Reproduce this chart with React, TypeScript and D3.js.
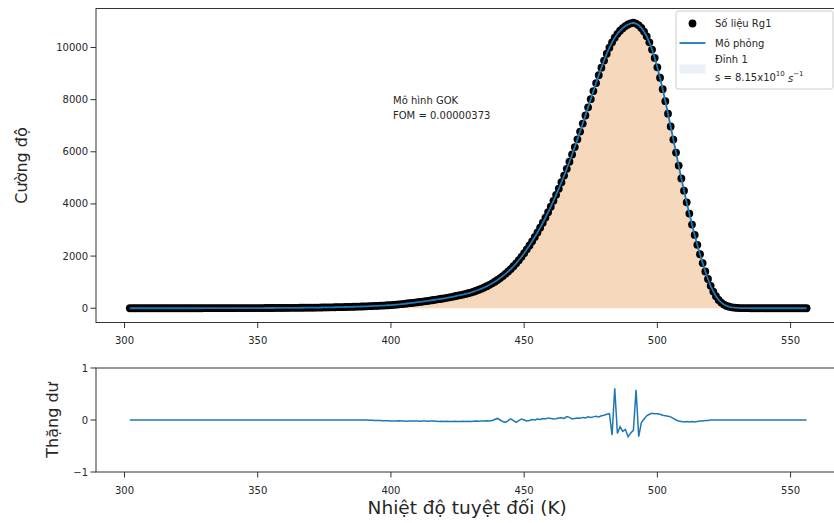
import React from 'react';
import * as d3 from 'd3';

// Temperature grid: 302 K ... 556 K, 1 K step (one reading per kelvin)
const tStart = 302;
const tEnd = 556;

// Measured TL intensity (Số liệu Rg1), one value per kelvin from 302 K
const intensity: number[] = [
  0,0,0,0,0,0,0,0,0,0, 0,0,0,0,0,0,0,0,0,0, 0,0,0,0,0,0,0,0,          // 302-329
  1,1,1,1,2,2,2,2,3,3,                                                  // 330
  3,3,4,4,4,5,5,5,6,6,                                                  // 340
  6,7,7,8,8,9,9,10,10,11,                                               // 350
  12,13,14,15,16,17,18,19,20,21,                                        // 360
  22,23,25,26,28,30,32,34,36,38,                                        // 370
  40,42,45,47,50,53,56,60,63,66,                                        // 380
  70,74,78,83,88,93,98,103,108,114,                                     // 390
  120,129,138,148,159,170,181,192,204,217,                              // 400
  230,243,256,270,285,300,316,331,347,363,                              // 410
  380,399,418,438,459,480,502,525,549,574,                              // 420
  600,634,670,709,751,796,845,898,955,1017,                             // 430
  1084,1156,1234,1318,1408,1505,1609,1721,1841,1970,                    // 440
  2108,2258,2408,2566,2732,2906,3088,3278,3476,3682,                    // 450
  3896,4118,4348,4586,4832,5086,5348,5618,5896,6182,                    // 460
  6476,6776,7082,7392,7704,8016,8328,8636,8936,9226,                    // 470
  9500,9760,9994,10200,10378,10524,10644,10742,10822,10884,             // 480
  10926,10948,10918,10852,10750,10610,10430,10200,9920,9600,            // 490
  9240,8840,8400,7940,7460,6970,6470,5970,5470,4980,                    // 500
  4510,4060,3630,3210,2810,2430,2070,1730,1410,1120,                    // 510
  860,640,460,320,215,140,90,56,34,20,                                  // 520
  12,7,4,2,1,0,0,0,0,0,                                                 // 530
  0,0,0,0,0,0,0,0,0,0,                                                  // 540
  0,0,0,0,0,0,0                                                         // 550-556
];

// GOK simulation (Mô phỏng) – visually identical to the data
const fitted: number[] = intensity;

// Residuals (Thặng dư), one value per kelvin from 302 K
const residual: number[] = [
  0,0,0,0,0,0,0,0,0,0, 0,0,0,0,0,0,0,0,0,0, 0,0,0,0,0,0,0,0,0,0,       // 302-331
  0,0,0,0,0,0,0,0,0,0, 0,0,0,0,0,0,0,0,0,0, 0,0,0,0,0,0,0,0,0,0,       // 332-361
  0,0,0,0,0,0,0,0,0,0, 0,0,0,0,0,0,0,0,0,0, 0,0,0,0,0,0,0,0,           // 362-389
  0,0,-0.005,-0.005,-0.01,-0.01,-0.01,-0.015,-0.015,-0.015,             // 390
  -0.02,-0.02,-0.02,-0.015,-0.02,-0.02,-0.025,-0.02,-0.02,-0.02,        // 400
  -0.02,-0.025,-0.02,-0.02,-0.025,-0.02,-0.02,-0.025,-0.03,-0.025,      // 410
  -0.03,-0.025,-0.03,-0.03,-0.025,-0.03,-0.03,-0.025,-0.03,-0.025,      // 420
  -0.03,-0.025,-0.02,-0.025,-0.02,-0.02,-0.015,-0.02,-0.01,0.01,        // 430
  0.03,0.0,-0.03,-0.045,-0.01,0.02,-0.01,-0.045,-0.01,0.02,             // 440
  0.0,-0.02,-0.01,0.01,0.0,0.02,0.01,0.03,0.02,0.04,                    // 450
  0.03,0.02,0.025,0.04,0.045,0.03,0.065,0.05,0.02,0.03,                 // 460
  0.04,0.035,0.05,0.04,0.06,0.05,0.06,0.07,0.06,0.08,                   // 470
  0.09,0.11,0.12,-0.29,0.61,-0.26,-0.13,-0.22,-0.18,-0.32,              // 480
  -0.25,-0.2,0.58,-0.32,-0.05,0.02,0.08,0.11,0.13,0.12,                 // 490
  0.12,0.11,0.09,0.08,0.07,0.06,0.03,0.0,-0.02,-0.03,                   // 500
  -0.04,-0.03,-0.04,-0.03,-0.04,-0.03,-0.02,-0.02,-0.01,-0.01,          // 510
  0,0,0,0,0,0,0,0,0,0,                                                  // 520
  0,0,0,0,0,0,0,0,0,0, 0,0,0,0,0,0,0,0,0,0, 0,0,0,0,0,0,0              // 530-556
];

const xTicks = [300, 350, 400, 450, 500, 550];
const yTicksTop = [0, 2000, 4000, 6000, 8000, 10000];
const yTicksBottom = [-1, 0, 1];

const temps = intensity.map((_, i) => tStart + i);

const W = 834;
const H = 523;
const FONT = 'DejaVu Sans, sans-serif';
const TXT = '#262626';
const SPINE = '#333333';
const BLUE = '#1f77b4';
const FILL = '#f6d9bc';

const left = 96;
const right = 840.4;
const topT = 8.5, botT = 322.5;
const topB = 368, botB = 472;

export default function App() {
  const xMargin = (tEnd - tStart) * 0.05;
  const x = d3.scaleLinear().domain([tStart - xMargin, tEnd + xMargin]).range([left, right]);
  const maxI = d3.max(intensity) as number;
  const yMargin = maxI * 0.05;
  const y = d3.scaleLinear().domain([-yMargin, maxI + yMargin]).range([botT, topT]);
  const yr = d3.scaleLinear().domain([-1, 1]).range([botB, topB]);

  const pts = temps.map((t, i) => ({ t, v: intensity[i], f: fitted[i], r: residual[i] }));

  const fitLine = d3.line<any>().x(d => x(d.t)).y(d => y(d.f))(pts) as string;
  const fillArea = d3.area<any>().x(d => x(d.t)).y0(() => y(0)).y1(d => y(d.f))(pts) as string;
  const resLine = d3.line<any>().x(d => x(d.t)).y(d => yr(d.r))(pts) as string;

  const tickLen = 5.5;
  const R = 3.9;

  return (
    <svg width={W} height={H} style={{ position: 'absolute', left: 0, top: 0, display: 'block', overflow: 'hidden' }}
      fontFamily={FONT}>
      <rect x={0} y={0} width={W} height={H} fill="white" />

      {/* ---------- Top panel ---------- */}
      <path d={fillArea} fill={FILL} stroke="none" />
      {pts.map((d, i) => (
        <circle key={i} cx={x(d.t)} cy={y(d.v)} r={R} fill="black" />
      ))}
      <path d={fitLine} fill="none" stroke={BLUE} strokeWidth={1.8} />

      <rect x={left} y={topT} width={right - left} height={botT - topT} fill="none" stroke={SPINE} strokeWidth={1} />

      {xTicks.map(t => (
        <g key={'xt' + t}>
          <line x1={x(t)} x2={x(t)} y1={botT} y2={botT + tickLen} stroke={SPINE} strokeWidth={1} />
          <text x={x(t)} y={botT + 21.5} fontSize={10} fill={TXT} textAnchor="middle">{t}</text>
        </g>
      ))}
      {yTicksTop.map(v => (
        <g key={'yt' + v}>
          <line x1={left - tickLen} x2={left} y1={y(v)} y2={y(v)} stroke={SPINE} strokeWidth={1} />
          <text x={left - 8} y={y(v)} fontSize={10} fill={TXT} textAnchor="end" dominantBaseline="central">{v}</text>
        </g>
      ))}
      <text transform={`translate(21,${(topT + botT) / 2}) rotate(-90)`} fontSize={16} fill={TXT}
        textAnchor="middle" dominantBaseline="central">Cường độ</text>

      <text x={393} y={100} fontSize={10} fill={TXT} dominantBaseline="central">Mô hình GOK</text>
      <text x={393} y={115} fontSize={10} fill={TXT} dominantBaseline="central">FOM = 0.00000373</text>

      {/* Legend */}
      <rect x={676} y={11} width={157} height={78} rx={2.5} fill="white" fillOpacity={0.8} stroke="#cccccc" strokeWidth={1} />
      <circle cx={692.5} cy={23.5} r={R} fill="black" />
      <text x={715} y={23.5} fontSize={10} fill={TXT} dominantBaseline="central">Số liệu Rg1</text>
      <line x1={679.5} x2={705.5} y1={43} y2={43} stroke={BLUE} strokeWidth={1.8} />
      <text x={715} y={43} fontSize={10} fill={TXT} dominantBaseline="central">Mô phỏng</text>
      <rect x={679.5} y={64.5} width={26} height={9} fill="#ebf1f7" />
      <text x={715} y={59.5} fontSize={10} fill={TXT} dominantBaseline="central">Đỉnh 1</text>
      <text x={715} y={77.5} fontSize={10} fill={TXT} dominantBaseline="central">
        s = 8.15x10<tspan dy={-4} fontSize={7}>10</tspan>
        <tspan dy={4}> </tspan>
        <tspan fontStyle="italic">s</tspan>
        <tspan dy={-4} fontSize={7}>−1</tspan>
      </text>

      {/* ---------- Bottom panel ---------- */}
      <path d={resLine} fill="none" stroke={BLUE} strokeWidth={1.5} />
      <rect x={left} y={topB} width={right - left} height={botB - topB} fill="none" stroke={SPINE} strokeWidth={1} />
      {xTicks.map(t => (
        <g key={'xb' + t}>
          <line x1={x(t)} x2={x(t)} y1={botB} y2={botB + tickLen} stroke={SPINE} strokeWidth={1} />
          <text x={x(t)} y={botB + 21.5} fontSize={10} fill={TXT} textAnchor="middle">{t}</text>
        </g>
      ))}
      {yTicksBottom.map(v => (
        <g key={'yb' + v}>
          <line x1={left - tickLen} x2={left} y1={yr(v)} y2={yr(v)} stroke={SPINE} strokeWidth={1} />
          <text x={left - 8} y={yr(v)} fontSize={10} fill={TXT} textAnchor="end" dominantBaseline="central">
            {v < 0 ? '−' + Math.abs(v) : String(v)}
          </text>
        </g>
      ))}
      <text transform={`translate(52,${(topB + botB) / 2}) rotate(-90)`} fontSize={16} fill={TXT}
        textAnchor="middle" dominantBaseline="central">Thặng dư</text>
      <text x={(left + right) / 2 - 1} y={507} fontSize={18.5} fill={TXT} textAnchor="middle" dominantBaseline="central">
        Nhiệt độ tuyệt đối (K)
      </text>
    </svg>
  );
}
